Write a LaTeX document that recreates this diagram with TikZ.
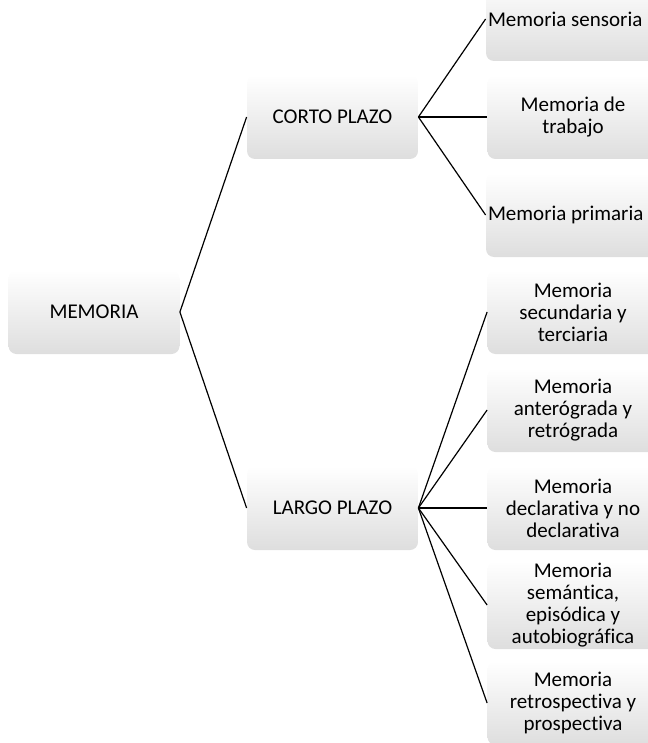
\documentclass[tikz,border=0pt]{standalone}
\usepackage{fontspec}
\setmainfont[Ligatures=NoCommon]{Carlito}
\usepackage{tikz}
\usetikzlibrary{positioning}

\begin{document}
\begin{tikzpicture}[
    x=0.5pt, y=-0.5pt,
    font=\fontsize{10.5pt}{11pt}\selectfont,
    link/.style={draw=black, line width=0.6pt},
    box/.style={
        rounded corners=4pt,
        align=center,
        minimum width=85.5pt,
        minimum height=42pt,
        inner sep=1pt,
        top color=white,
        middle color=white,
        bottom color=black!13
    },
    % overflowing one-line labels start at the box's left edge
    longbox/.style={box, align=flush left, text width=85pt}
]

% Stable crop.
\path[use as bounding box] (0,0) rectangle (647,743);

% --------------------------------------------------
% Root and first level
% --------------------------------------------------
\node[box] (memoria) at (94,312) {MEMORIA};

\node[box] (corto) at (332.5,117) {CORTO PLAZO};
\node[box] (largo) at (332.5,508) {LARGO PLAZO};

% --------------------------------------------------
% Short-term branch
% --------------------------------------------------
\node[longbox] (sens) at (573,19)  {Memoria sensoria};
\node[box]     (trab) at (573,117) {Memoria de\\trabajo};
\node[longbox] (prim) at (573,215) {Memoria primaria};

% --------------------------------------------------
% Long-term branch
% --------------------------------------------------
\node[box] (secu) at (573,312) {Memoria\\secundaria y\\terciaria};
\node[box] (ante) at (573,410) {Memoria\\anterógrada y\\retrógrada};
\node[box] (decl) at (573,508) {Memoria\\declarativa y no\\declarativa};
\node[box] (sema) at (573,605) {Memoria\\semántica,\\episódica y\\autobiográfica};
\node[box] (retro) at (573,703) {Memoria\\retrospectiva y\\prospectiva};

% --------------------------------------------------
% Connectors
% --------------------------------------------------
\draw[link] (memoria.east) -- (corto.west);
\draw[link] (memoria.east) -- (largo.west);

\foreach \leaf in {sens,trab,prim}
    \draw[link] (corto.east) -- (\leaf.west);

\foreach \leaf in {secu,ante,decl,sema,retro}
    \draw[link] (largo.east) -- (\leaf.west);

\end{tikzpicture}
\end{document}
